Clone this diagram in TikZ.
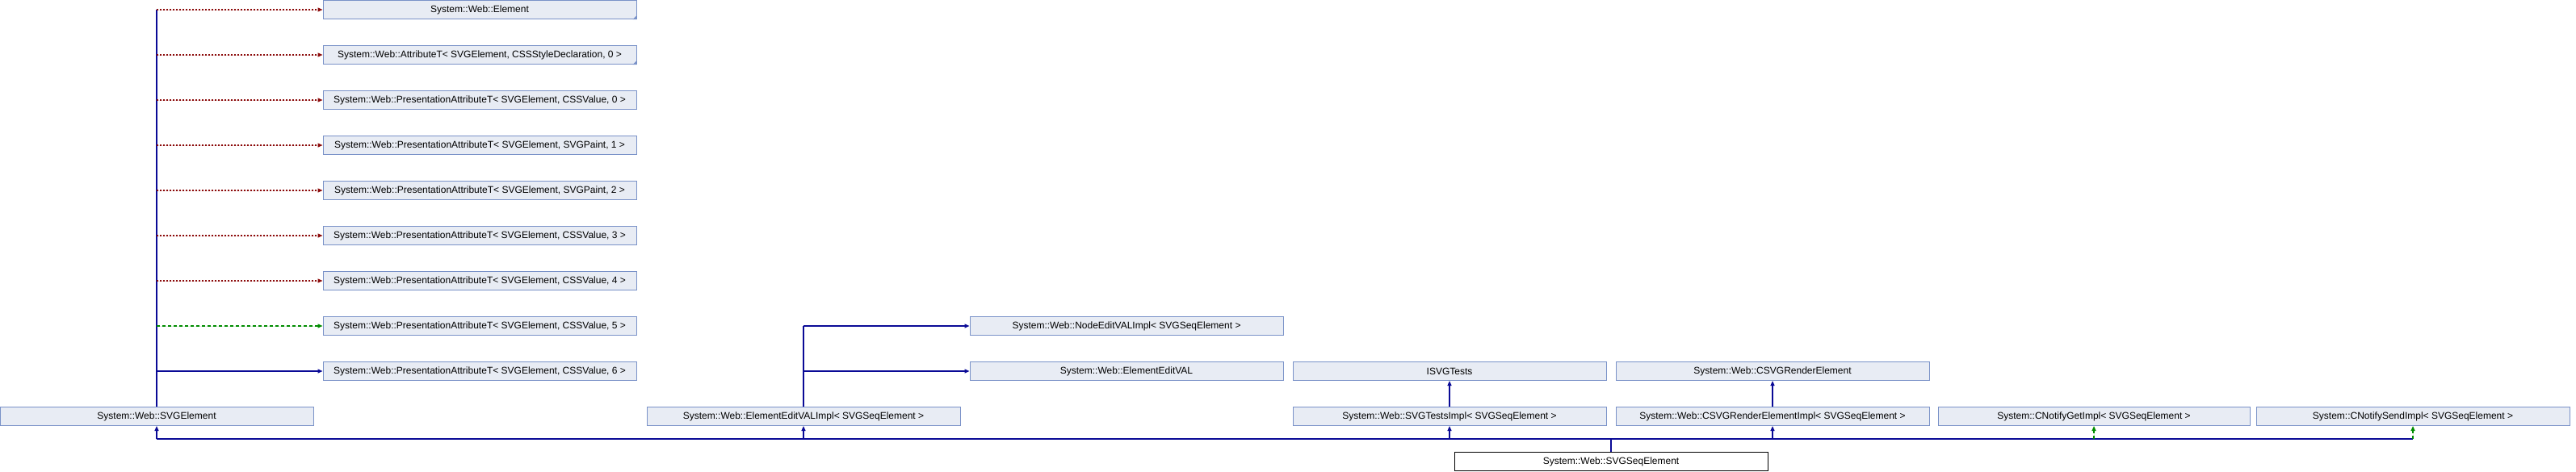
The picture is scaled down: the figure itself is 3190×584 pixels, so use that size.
\documentclass[tikz,border=0pt]{standalone}
\usepackage{fontspec}
\setmainfont{Liberation Sans}
\usepackage{tikz}
\usetikzlibrary{shapes,arrows,arrows.meta,positioning,calc}
\definecolor{boxfill}{RGB}{232,236,244}
\definecolor{boxline}{RGB}{122,146,200}
\definecolor{pubblue}{RGB}{10,10,150}
\definecolor{privred}{RGB}{139,10,10}
\definecolor{protgreen}{RGB}{0,140,0}
\tikzstyle{klass} = [rectangle, minimum width=388pt, minimum height=23pt, inner sep=0pt, text centered, draw=boxline, fill=boxfill, line width=1pt, font=\fontsize{12}{13}\selectfont]
\tikzstyle{current} = [klass, draw=black, fill=white]
\tikzstyle{bus} = [line width=1.3pt, draw=pubblue]
\tikzstyle{arrow} = [line width=1.3pt, ->, >={Triangle[length=6pt,width=5pt]}]
\tikzstyle{pub} = [arrow, draw=pubblue, fill=pubblue]
\tikzstyle{priv} = [arrow, draw=privred, fill=privred, dash pattern=on 2pt off 2pt]
\tikzstyle{prot} = [arrow, draw=protgreen, fill=protgreen, dash pattern=on 4pt off 3pt]
\tikzstyle{fold} = [fill=boxline]

\begin{document}
\begin{tikzpicture}[x=1pt, y=-1pt]
\useasboundingbox (0,0) rectangle (3190,584);

% Classes de base
\node (svgelem) [klass] at (194,516) {System::Web::SVGElement};
\node (element) [klass] at (594,12) {System::Web::Element};
\node (attrT) [klass] at (594,68) {System::Web::AttributeT< SVGElement, CSSStyleDeclaration, 0 >};
\node (pattr0) [klass] at (594,124) {System::Web::PresentationAttributeT< SVGElement, CSSValue, 0 >};
\node (pattr1) [klass] at (594,180) {System::Web::PresentationAttributeT< SVGElement, SVGPaint, 1 >};
\node (pattr2) [klass] at (594,236) {System::Web::PresentationAttributeT< SVGElement, SVGPaint, 2 >};
\node (pattr3) [klass] at (594,292) {System::Web::PresentationAttributeT< SVGElement, CSSValue, 3 >};
\node (pattr4) [klass] at (594,348) {System::Web::PresentationAttributeT< SVGElement, CSSValue, 4 >};
\node (pattr5) [klass] at (594,404) {System::Web::PresentationAttributeT< SVGElement, CSSValue, 5 >};
\node (pattr6) [klass] at (594,460) {System::Web::PresentationAttributeT< SVGElement, CSSValue, 6 >};

\node (eevimpl) [klass] at (995,516) {System::Web::ElementEditVALImpl< SVGSeqElement >};
\node (nodeeval) [klass] at (1395,404) {System::Web::NodeEditVALImpl< SVGSeqElement >};
\node (eeval) [klass] at (1395,460) {System::Web::ElementEditVAL};

\node (isvgtests) [klass] at (1795,460) {ISVGTests};
\node (svgtestsimpl) [klass] at (1795,516) {System::Web::SVGTestsImpl< SVGSeqElement >};
\node (csvgrender) [klass] at (2195,460) {System::Web::CSVGRenderElement};
\node (csvgrenderimpl) [klass] at (2195,516) {System::Web::CSVGRenderElementImpl< SVGSeqElement >};
\node (cnotifyget) [klass, minimum width=386pt] at (2593,516) {System::CNotifyGetImpl< SVGSeqElement >};
\node (cnotifysend) [klass] at (2988,516) {System::CNotifySendImpl< SVGSeqElement >};

% Classe courante
\node (svgseq) [current] at (1995,572) {System::Web::SVGSeqElement};

% Coins tronques
\fill [fold] (element.south east) -- ++(-5,0) -- ++(5,-5) -- cycle;
\fill [fold] (attrT.south east) -- ++(-5,0) -- ++(5,-5) -- cycle;

% Relations SVGSeqElement
\coordinate (hub) at (svgseq.north |- 0,544);
\draw [bus] (svgseq.north) -- (hub);
\draw [bus] (svgelem.south |- hub) -- (cnotifysend.south |- hub);
\draw [pub] (svgelem.south |- hub) -- (svgelem.south);
\draw [pub] (eevimpl.south |- hub) -- (eevimpl.south);
\draw [pub] (svgtestsimpl.south |- hub) -- (svgtestsimpl.south);
\draw [pub] (csvgrenderimpl.south |- hub) -- (csvgrenderimpl.south);
\draw [prot] (cnotifyget.south |- hub) -- (cnotifyget.south);
\draw [prot] (cnotifysend.south |- hub) -- (cnotifysend.south);

% Relations SVGElement
\draw [bus] (svgelem.north) -- (svgelem.north |- element.west);
\draw [priv] (svgelem.north |- element.west) -- (element.west);
\draw [priv] (svgelem.north |- attrT.west) -- (attrT.west);
\draw [priv] (svgelem.north |- pattr0.west) -- (pattr0.west);
\draw [priv] (svgelem.north |- pattr1.west) -- (pattr1.west);
\draw [priv] (svgelem.north |- pattr2.west) -- (pattr2.west);
\draw [priv] (svgelem.north |- pattr3.west) -- (pattr3.west);
\draw [priv] (svgelem.north |- pattr4.west) -- (pattr4.west);
\draw [prot] (svgelem.north |- pattr5.west) -- (pattr5.west);
\draw [pub] (svgelem.north |- pattr6.west) -- (pattr6.west);

% Relations ElementEditVALImpl
\draw [bus] (eevimpl.north) -- (eevimpl.north |- nodeeval.west);
\draw [pub] (eevimpl.north |- nodeeval.west) -- (nodeeval.west);
\draw [pub] (eevimpl.north |- eeval.west) -- (eeval.west);

% Autres relations
\draw [pub] (svgtestsimpl) -- (isvgtests);
\draw [pub] (csvgrenderimpl) -- (csvgrender);

\end{tikzpicture}
\end{document}
